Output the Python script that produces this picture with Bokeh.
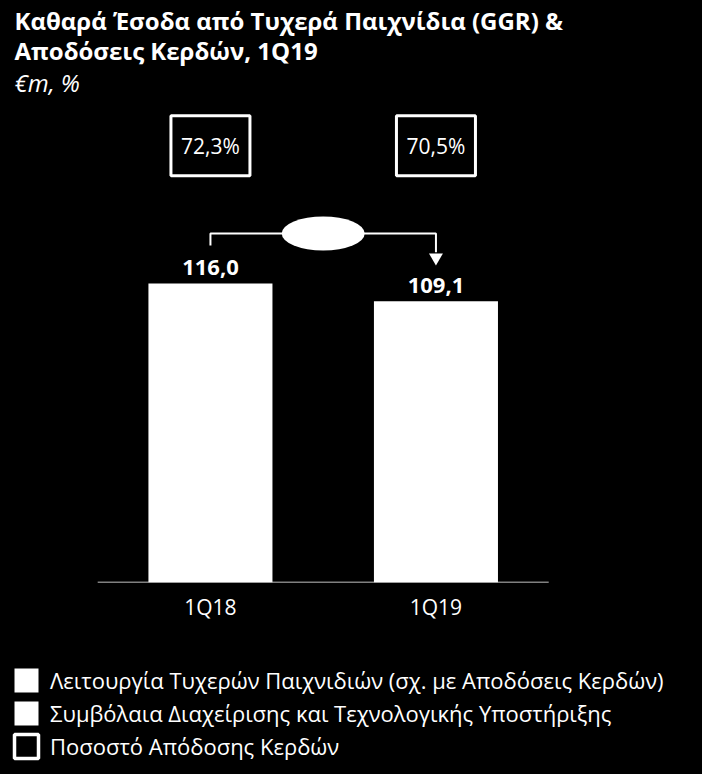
from bokeh.plotting import figure
from bokeh.layouts import column
from bokeh.models import (Range1d, Label, Legend, LegendItem, LinearAxis, FixedTicker,
                          GlobalInlineStyleSheet)
from bokeh.core.properties import value
from bokeh.embed import file_html
from bokeh.resources import INLINE

# data
categories = ["1Q18", "1Q19"]
ggr = [116.0, 109.1]
ggr_labels = ["116,0", "109,1"]
payout_labels = ["72,3%", "70,5%"]

title_1 = "Καθαρά Έσοδα από Τυχερά Παιχνίδια (GGR) &"
title_2 = "Αποδόσεις Κερδών, 1Q19"
subtitle = "€m, %"
legend_labels = [
    "Λειτουργία Τυχερών Παιχνιδιών (σχ. με Αποδόσεις Κερδών)",
    "Συμβόλαια Διαχείρισης και Τεχνολογικής Υποστήριξης",
    "Ποσοστό Απόδοσης Κερδών",
]

FONT = "Open Sans"
W = 702
pos = list(range(len(categories)))


def blank(height):
    f = figure(width=W, height=height, x_range=Range1d(0, W), y_range=Range1d(0, height),
               x_axis_location=None, y_axis_location=None, output_backend="svg",
               toolbar_location=None, min_border=0, outline_line_color=None,
               background_fill_color="black", border_fill_color="black")
    f.grid.visible = False
    return f


# --- heading
head = blank(110)
for txt, yy, style in [(title_1, 90, "bold"), (title_2, 60, "bold"), (subtitle, 28, "italic")]:
    head.add_layout(Label(x=14, y=yy, x_units="screen", y_units="screen", text=txt,
                          text_color="white", text_font=FONT, text_font_style=style,
                          text_font_size="24px", text_baseline="alphabetic"))

# --- chart
p = figure(x_range=Range1d(-0.931, 2.182), y_range=Range1d(0, 183.1),
           width=W, height=530, output_backend="svg", toolbar_location=None,
           x_axis_location=None, y_axis_location=None,
           min_border_left=0, min_border_right=0, min_border_top=0, min_border_bottom=58,
           background_fill_color="black", border_fill_color="black", outline_line_color=None)
p.grid.visible = False

xa = LinearAxis(ticker=FixedTicker(ticks=pos),
                major_label_overrides={i: c for i, c in zip(pos, categories)})
xa.axis_line_color = None
xa.major_tick_line_color = None
xa.minor_tick_line_color = None
xa.major_label_text_color = "white"
xa.major_label_text_font = FONT
xa.major_label_text_font_size = "21px"
xa.major_label_standoff = 4
p.add_layout(xa, "below")

# baseline under the bars
p.segment(x0=[pos[0] - 0.5], x1=[pos[-1] + 0.5], y0=[0], y1=[0], line_color="white", line_width=1.5)

bars = p.vbar(x=pos, top=ggr, width=0.55, fill_color="white", line_color=None)
p.text(x=pos, y=ggr, text=ggr_labels, y_offset=-16, text_align="center",
       text_baseline="alphabetic", text_color="white", text_font=value(FONT),
       text_font_style="bold", text_font_size="22px")

# payout ratio boxes above the bars
box_y = max(ggr) + 53.4
p.rect(x=pos, y=box_y, width=79, height=60, width_units="screen",
       height_units="screen", fill_color="black", line_color="white", line_width=3)
p.text(x=pos, y=box_y, text=payout_labels, text_align="center", text_baseline="middle",
       text_color="white", text_font=value(FONT), text_font_size="21px")

# change connector between the two bars
top = max(ggr) + 19.4
p.line(x=[pos[0], pos[0], pos[1], pos[1]],
       y=[ggr[0] + 14.7, top, top, ggr[1] + 19.0], line_color="white", line_width=2)
p.scatter(x=[pos[1]], y=[ggr[1] + 17.0], marker="inverted_triangle", size=14,
          fill_color="white", line_color=None)
p.ellipse(x=[(pos[0] + pos[1]) / 2], y=[top], width=83, height=34, width_units="screen",
          height_units="screen", fill_color="white", line_color=None)

# --- legend
foot = blank(134)
swatch_fill = foot.vbar(x=pos, top=ggr, width=0.55, fill_color="white", line_color=None,
                        visible=False)
swatch_box = foot.rect(x=pos, y=ggr, width=1, height=1, fill_color="black",
                       line_color="white", line_width=3.5, visible=False)
legend = Legend(items=[LegendItem(label=legend_labels[0], renderers=[swatch_fill]),
                       LegendItem(label=legend_labels[1], renderers=[swatch_fill]),
                       LegendItem(label=legend_labels[2], renderers=[swatch_box])],
                location=(11, 13), orientation="vertical", glyph_width=30, glyph_height=30,
                label_height=30, spacing=3, padding=0, margin=0, label_standoff=9,
                label_text_color="white", label_text_font=FONT, label_text_font_size="22px",
                background_fill_alpha=0, border_line_alpha=0)
foot.add_layout(legend)

layout = column(head, p, foot, spacing=0)
layout.stylesheets = [GlobalInlineStyleSheet(css="body { background: #000; margin: 0; }")]

open("out.html", "w").write(file_html(layout, INLINE))
